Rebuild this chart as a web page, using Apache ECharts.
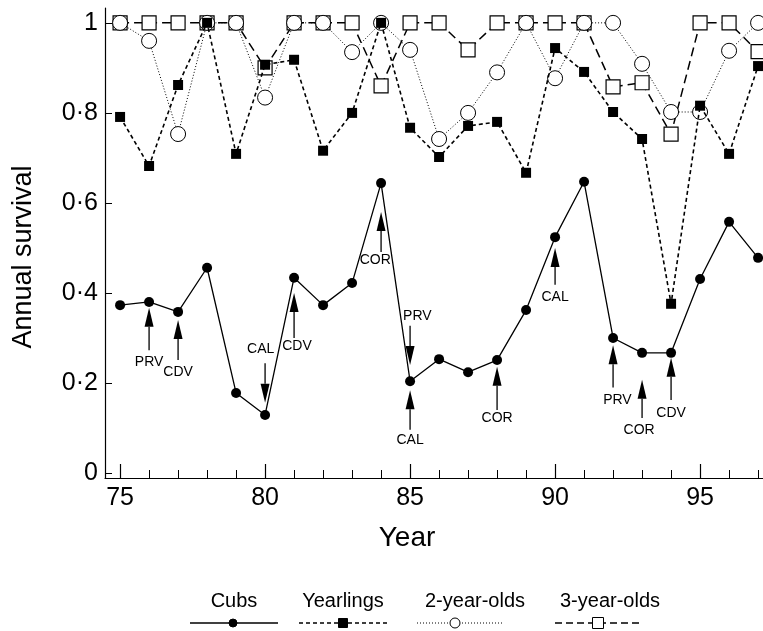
<!DOCTYPE html>
<html>
<head>
<meta charset="utf-8">
<script src="https://cdn.jsdelivr.net/npm/echarts@6/dist/echarts.min.js"></script>
<style>
html,body{margin:0;padding:0;background:#fff;}
#chart{width:763px;height:631px;}
</style>
</head>
<body>
<div id="chart"></div>
<script>
var years = [75,76,77,78,79,80,81,82,83,84,85,86,87,88,89,90,91,92,93,94,95,96,97];
var cubs = [0.373,0.38,0.358,0.456,0.178,0.129,0.434,0.373,0.422,0.644,0.204,0.253,0.224,0.251,0.362,0.524,0.647,0.30,0.267,0.267,0.431,0.558,0.478];
var yearlings = [0.791,0.682,0.862,1.0,0.709,0.907,0.918,0.716,0.80,1.0,0.767,0.702,0.771,0.78,0.667,0.944,0.891,0.802,0.742,0.376,0.816,0.709,0.904];
var twoYear = [1.0,0.96,0.753,1.0,1.0,0.834,1.0,1.0,0.935,1.0,0.94,0.742,0.80,0.89,1.0,0.877,1.0,1.0,0.909,0.802,0.802,0.938,1.0];
var threeYear = [1.0,1.0,1.0,1.0,1.0,0.90,1.0,1.0,1.0,0.86,1.0,1.0,0.94,1.0,1.0,1.0,1.0,0.858,0.867,0.753,1.0,1.0,0.936];
var seriesNames = ['Cubs','Yearlings','2-year-olds','3-year-olds'];
var yTicks = [0,0.2,0.4,0.6,0.8,1];
var xMajorTicks = [75,80,85,90,95];

// annotations (arrows with cause labels)
var annYears   = [76,77,80,81,84,85,85,88,90,92,93,94];
var annTexts   = ['PRV','CDV','CAL','CDV','COR','PRV','CAL','COR','CAL','PRV','COR','CDV'];
var annTail    = [0.273,0.251,0.244,0.300,0.491,0.327,0.096,0.140,0.418,0.190,0.122,0.162];
var annTip     = [0.367,0.340,0.156,0.400,0.580,0.240,0.184,0.236,0.500,0.284,0.207,0.256];
var annLabelX  = [76,77,79.85,81.1,83.8,85.25,85,88,90,92.15,92.9,94];
var annLabelY  = [0.247,0.224,0.276,0.282,0.473,0.349,0.073,0.122,0.391,0.162,0.096,0.133];

var FONT = "'Liberation Sans', Arial, Helvetica, sans-serif";

function pairs(vals){ return years.map(function(y,i){ return [y, vals[i]]; }); }

var annData = annYears.map(function(y,i){ return [y, annTail[i], annTip[i], annLabelX[i], annLabelY[i]]; });

var chart = echarts.init(document.getElementById('chart'));

var legendX = [
  {text:234, l1:190, l2:278, m:233},
  {text:343, l1:299, l2:388, m:343},
  {text:475, l1:417, l2:503, m:455},
  {text:610, l1:555, l2:643, m:598}
];
var legendStyles = [
  {dash:null, w:1.3, sym:'circle', fill:'#000', size:8},
  {dash:[4,3], w:1.5, sym:'rect', fill:'#000', size:9},
  {dash:[1,2], w:1, sym:'circle', fill:'#fff', size:10},
  {dash:[7,4], w:1.3, sym:'rect', fill:'#fff', size:11}
];
var TY = 601, MY = 623;
var graphics = [];
seriesNames.forEach(function(n,i){
  var L = legendX[i], S = legendStyles[i];
  graphics.push({type:'text', x:L.text, y:TY, style:{text:n, font:'20px '+FONT, fill:'#000', align:'center', verticalAlign:'middle'}});
  graphics.push({type:'line', shape:{x1:L.l1, y1:MY, x2:L.l2, y2:MY}, style:{stroke:'#000', lineWidth:S.w, lineDash:S.dash}});
  if (S.sym === 'circle') {
    graphics.push({type:'circle', shape:{cx:L.m, cy:MY, r:S.size/2}, style:{fill:S.fill, stroke:'#000', lineWidth:1}, z:10});
  } else {
    graphics.push({type:'rect', shape:{x:L.m-S.size/2, y:MY-S.size/2, width:S.size, height:S.size}, style:{fill:S.fill, stroke:'#000', lineWidth:1}, z:10});
  }
});

var option = {
  animation: false,
  backgroundColor: '#fff',
  grid: {left:105, right:0, top:8, bottom:153, containLabel:false},
  xAxis: [{
    type:'value', min:74.48, max:97.17,
    name:'Year', nameLocation:'middle', nameGap:46,
    nameTextStyle:{fontSize:28, fontFamily:FONT, color:'#000', padding:[0,54,0,0]},
    axisLine:{show:true, onZero:false, lineStyle:{color:'#000', width:1.2}},
    axisTick:{show:true, inside:true, length:14, customValues:xMajorTicks, lineStyle:{color:'#000', width:1.2}},
    axisLabel:{show:true, customValues:xMajorTicks, fontSize:25, fontFamily:FONT, color:'#000', margin:8},
    splitLine:{show:false}
  },{
    type:'value', min:74.48, max:97.17, position:'bottom',
    axisLine:{show:false, onZero:false},
    axisTick:{show:true, inside:true, length:8, customValues:years, lineStyle:{color:'#000', width:1}},
    axisLabel:{show:false},
    splitLine:{show:false}
  }],
  yAxis: {
    type:'value', min:-0.011, max:1.033,
    name:'Annual survival', nameLocation:'middle', nameGap:68, nameRotate:90,
    nameTextStyle:{fontSize:27, fontFamily:FONT, color:'#000', padding:[0,28,0,0]},
    axisLine:{show:true, onZero:false, lineStyle:{color:'#000', width:1.2}},
    axisTick:{show:true, inside:true, length:7, customValues:yTicks, lineStyle:{color:'#000', width:1}},
    axisLabel:{show:true, customValues:yTicks, fontSize:25, fontFamily:FONT, color:'#000', margin:7,
      formatter:function(v){ if (Math.abs(v) < 1e-9) return '0'; if (Math.abs(v-1) < 1e-9) return '1'; return v.toFixed(1).replace('.', '\u00B7'); }},
    splitLine:{show:false}
  },
  graphic: graphics,
  series: [
    {name:seriesNames[3], type:'line', data:pairs(threeYear), symbol:'rect', symbolSize:14,
      itemStyle:{color:'#fff', borderColor:'#000', borderWidth:1.2},
      lineStyle:{color:'#000', width:1.5, type:[9,5]}, z:2},
    {name:seriesNames[2], type:'line', data:pairs(twoYear), symbol:'circle', symbolSize:15,
      itemStyle:{color:'#fff', borderColor:'#000', borderWidth:1},
      lineStyle:{color:'#000', width:1, type:[1,2]}, z:3},
    {name:seriesNames[1], type:'line', data:pairs(yearlings), symbol:'rect', symbolSize:10,
      itemStyle:{color:'#000'},
      lineStyle:{color:'#000', width:1.6, type:[4,3]}, z:4},
    {name:seriesNames[0], type:'line', data:pairs(cubs), symbol:'circle', symbolSize:10,
      itemStyle:{color:'#000'},
      lineStyle:{color:'#000', width:1.3, type:'solid'}, z:5},
    {name:'annotations', type:'custom', data:annData, z:6,
      encode:{x:[0,3], y:[1,2,4]},
      renderItem:function(params, api){
        var x = api.value(0), tail = api.value(1), tip = api.value(2), lx = api.value(3), ly = api.value(4);
        var p1 = api.coord([x, tail]), p2 = api.coord([x, tip]), pl = api.coord([lx, ly]);
        var dir = p2[1] > p1[1] ? 1 : -1;
        var headLen = 19, headW = 4.5;
        var baseY = p2[1] - dir*headLen;
        return {type:'group', children:[
          {type:'line', shape:{x1:p1[0], y1:p1[1], x2:p2[0], y2:baseY}, style:{stroke:'#000', lineWidth:1.3}},
          {type:'polygon', shape:{points:[[p2[0],p2[1]],[p2[0]-headW,baseY],[p2[0]+headW,baseY]]}, style:{fill:'#000'}},
          {type:'text', x:pl[0], y:pl[1], style:{text:annTexts[params.dataIndex], font:'14px '+FONT, fill:'#000', align:'center', verticalAlign:'middle'}}
        ]};
      }
    }
  ]
};
chart.setOption(option);
</script>
</body>
</html>
